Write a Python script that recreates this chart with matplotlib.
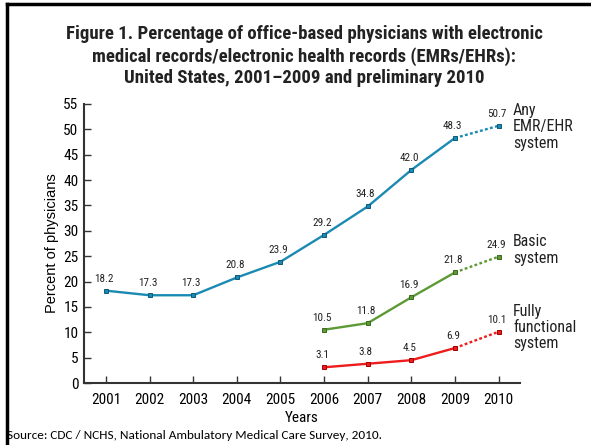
import matplotlib.pyplot as plt
from matplotlib import font_manager

years = [2001, 2002, 2003, 2004, 2005, 2006, 2007, 2008, 2009, 2010]
any_emr = [18.2, 17.3, 17.3, 20.8, 23.9, 29.2, 34.8, 42.0, 48.3, 50.7]
basic_years = [2006, 2007, 2008, 2009, 2010]
basic = [10.5, 11.8, 16.9, 21.8, 24.9]
fully = [3.1, 3.8, 4.5, 6.9, 10.1]
series_names = ["Any\nEMR/EHR\nsystem", "Basic\nsystem", "Fully\nfunctional\nsystem"]

names = {f.name for f in font_manager.fontManager.ttflist}


def pick(cands, default="DejaVu Sans"):
    for c in cands:
        if c in names:
            return c
    return default


narrow = pick(["Liberation Sans Narrow", "Arial Narrow", "Roboto Condensed",
               "PT Sans Narrow", "Archivo Narrow", "Asap Condensed"])
calibri = pick(["Carlito", "Calibri", "Open Sans"])
arial = pick(["Liberation Sans", "Arimo", "DejaVu Sans"])

fig = plt.figure(figsize=(5.91, 4.45), dpi=100)
ax = fig.add_axes([0.1421, 0.1393, 0.7377, 0.627])

colors = ["#1b8ab3", "#5c9a36", "#ee1c1c"]
edges = ["#0d5a7a", "#3d6a1e", "#a00000"]
label_dy = [-0.2, 1.3, 0.9]
groups = [(years, any_emr), (basic_years, basic), (basic_years, fully)]

for (xs, ys), c, ec, name, dy in zip(groups, colors, edges, series_names, label_dy):
    ax.plot(xs[:-1], ys[:-1], color=c, lw=1.7, zorder=2)
    ax.plot(xs[-2:], ys[-2:], color=c, lw=1.7, ls=(0, (1.2, 1.0)), zorder=2)
    ax.plot(xs, ys, ls="none", marker="s", ms=3.5, mfc=c, mec=ec, mew=0.7, zorder=3)
    for x, y in zip(xs, ys):
        ax.text(x - 0.05, y + 1.4, f"{y:.1f}", ha="center", va="bottom", fontsize=8,
                family=narrow, color="#222222")
    ax.text(2010.33, ys[-1] + dy, name, ha="left", va="center", fontsize=11.5,
            family=narrow, color="#222222", linespacing=1.1)

ax.set_xlim(2000.495, 2010.49)
ax.set_ylim(0, 55)
ax.set_xticks(years)
ax.set_yticks(range(0, 56, 5))
ax.tick_params(axis="both", direction="in", length=5, width=1, labelsize=11, color="#333333")
ax.tick_params(axis="x", pad=7)
ax.tick_params(axis="y", pad=4)
for lab in ax.get_xticklabels() + ax.get_yticklabels():
    lab.set_family(narrow)
for s in ["top", "right"]:
    ax.spines[s].set_visible(False)
for s in ["left", "bottom"]:
    ax.spines[s].set_linewidth(1.5)
    ax.spines[s].set_color("#333333")

ax.set_xlabel("Years", fontsize=11, family=narrow, labelpad=3)
ax.set_ylabel("Percent of physicians", fontsize=10.5, family=arial, labelpad=3)

fig.text(0.515, 0.874, "Figure 1. Percentage of office-based physicians with electronic\n"
         "medical records/electronic health records (EMRs/EHRs):\n"
         "United States, 2001\u20132009 and preliminary 2010",
         ha="center", va="center", fontsize=13.5, fontweight="bold", family=narrow,
         linespacing=1.25, color="#222222")

fig.text(0.012, 0.022, "Source: CDC / NCHS, National Ambulatory Medical Care Survey, 2010.",
         ha="left", va="center", fontsize=9.5, family=calibri)

# slide frame lines
fig.add_artist(plt.Line2D([0.012, 0.012], [0.0, 0.99], transform=fig.transFigure, color="black", lw=2.5))
fig.add_artist(plt.Line2D([0.012, 1.0], [0.99, 0.99], transform=fig.transFigure, color="black", lw=2.5))

fig.savefig("out.png", dpi=100)
